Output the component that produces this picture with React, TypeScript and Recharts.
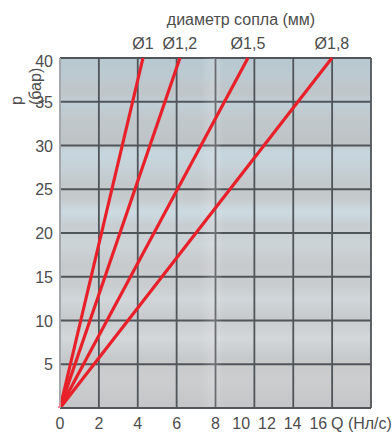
import React from "react";
import { LineChart, Line, XAxis, YAxis, CartesianGrid, ReferenceArea } from "recharts";

// ---- data ----
const diameterLabels = ["Ø1", "Ø1,2", "Ø1,5", "Ø1,8"];
const flowAt40Bar = [4.27, 6.17, 9.67, 13.99]; // Q (Нл/с) at p = 40 bar
const pressureRange = [0, 40];
const xTicks = [0, 2, 4, 6, 8, 10, 12, 14, 16];
const yTicks = [0, 5, 10, 15, 20, 25, 30, 35, 40];
const titleText = "диаметр сопла (мм)";
const xUnitText = "Q (Нл/с)";
const yLabelLines = ["р", "(бар)"];

// ---- layout ----
const W = 392;
const H = 433;
const margin = { top: 58, right: 21, bottom: 0, left: 20 };
const yAxisW = 40;
const xAxisH = 25;
const plotW = W - margin.left - margin.right - yAxisW;
const unitPx = plotW / 16;
const compressedStep = 25.7; // label spacing beyond 8 in the reference
const textColor = "#4d4d4d";
const font = "Arial, 'Liberation Sans', sans-serif";
const red = "#e8202a";
const gridColor = "#50555a";

const seriesData = diameterLabels.map((name, i) => ({
  name,
  data: [
    { q: 0, p: pressureRange[0] },
    { q: flowAt40Bar[i], p: pressureRange[1] },
  ],
}));

const XTick = (props: any) => {
  const { x, y, payload } = props;
  const v = payload.value as number;
  let tx = x;
  if (v > 8) {
    const x8 = x - (v - 8) * unitPx;
    tx = x8 + ((v - 8) / 2) * compressedStep;
  }
  return (
    <text x={tx} y={y} dy={13} textAnchor="middle" fill={textColor} fontSize={16} fontFamily={font}>
      {v}
    </text>
  );
};

const YTick = (props: any) => {
  const { x, y, payload } = props;
  const v = payload.value as number;
  if (v === 0) return null;
  return (
    <text x={x} y={y} dy={v === 40 ? 9 : 6} textAnchor="end" fill={textColor} fontSize={16} fontFamily={font}>
      {v}
    </text>
  );
};

const makeEndLabel = (name: string) => (props: any) => {
  const { x, y, index } = props;
  if (index !== 1) return null;
  return (
    <text x={x} y={y - 9} textAnchor="middle" fill={textColor} fontSize={16} fontFamily={font}>
      {name}
    </text>
  );
};

const bgStops: [number, string][] = [
  [0, "#b8c8d1"],
  [0.05, "#bcc9d0"],
  [0.1, "#c0c5c8"],
  [0.13, "#c0cfd7"],
  [0.17, "#c1c8cc"],
  [0.24, "#bec3c6"],
  [0.27, "#c6d6de"],
  [0.31, "#c6d2d8"],
  [0.36, "#c3c8cb"],
  [0.4, "#c5cacd"],
  [0.44, "#ccdbe2"],
  [0.48, "#c7cdd1"],
  [0.53, "#cdd4d8"],
  [0.59, "#c7cacd"],
  [0.65, "#c9cdd0"],
  [0.69, "#d0d6d9"],
  [0.74, "#c8cbcd"],
  [0.8, "#d3d7d9"],
  [0.86, "#c6c9cb"],
  [0.92, "#cccdce"],
  [1, "#c4c5c6"],
];

export default function App() {
  return (
    <div style={{ position: "absolute", left: 0, top: 0, width: W, height: H }}>
      <svg width={0} height={0} style={{ position: "absolute" }}>
        <defs>
          <linearGradient id="plotBg" x1="0" y1="0" x2="0" y2="1">
            {bgStops.map(([o, c]) => (
              <stop key={o} offset={o} stopColor={c} />
            ))}
          </linearGradient>
          <linearGradient id="vBand" x1="0" y1="0" x2="1" y2="0">
            <stop offset="0" stopColor="#ffffff" stopOpacity={0} />
            <stop offset="0.6" stopColor="#ffffff" stopOpacity={0.18} />
            <stop offset="1" stopColor="#ffffff" stopOpacity={0} />
          </linearGradient>
        </defs>
      </svg>
      <LineChart width={W} height={H} margin={margin}>
        <CartesianGrid
          stroke={gridColor}
          strokeWidth={1.8}
          fill="url(#plotBg)"
          fillOpacity={1}
        />
        <ReferenceArea x1={7.2} x2={8.4} y1={0} y2={40} fill="url(#vBand)" fillOpacity={1} stroke="none" ifOverflow="hidden" />
        <XAxis
          type="number"
          dataKey="q"
          domain={[0, 16]}
          ticks={xTicks}
          interval={0}
          height={xAxisH}
          tickLine={false}
          axisLine={{ stroke: gridColor, strokeWidth: 2 }}
          tick={<XTick />}
          allowDuplicatedCategory={false}
        />
        <YAxis
          type="number"
          dataKey="p"
          domain={[0, 40]}
          ticks={yTicks}
          interval={0}
          width={yAxisW}
          tickLine={false}
          tickSize={5}
          tickMargin={2}
          axisLine={{ stroke: "#d4d6d8", strokeWidth: 1.2 }}
          tick={<YTick />}
        />
        {seriesData.map((s) => (
          <Line
            key={s.name}
            data={s.data}
            dataKey="p"
            type="linear"
            stroke={red}
            strokeWidth={3.2}
            dot={false}
            isAnimationActive={false}
            label={makeEndLabel(s.name)}
          />
        ))}
      </LineChart>
      <svg
        width={W}
        height={H}
        style={{ position: "absolute", left: 0, top: 0, pointerEvents: "none" }}
      >
        <text x={241} y={25} textAnchor="middle" fill={textColor} fontSize={16} fontFamily={font}>
          {titleText}
        </text>
        <text x={331} y={429} textAnchor="start" fill={textColor} fontSize={16} fontFamily={font}>
          {xUnitText}
        </text>
        {yLabelLines.map((line, i) => {
          const lx = 22 + i * 18.5;
          const ly = 105;
          return (
            <text
              key={line}
              x={lx}
              y={ly}
              transform={`rotate(-90 ${lx} ${ly})`}
              textAnchor="start"
              fill={textColor}
              fontSize={16}
              fontFamily={font}
            >
              {line}
            </text>
          );
        })}
      </svg>
    </div>
  );
}
